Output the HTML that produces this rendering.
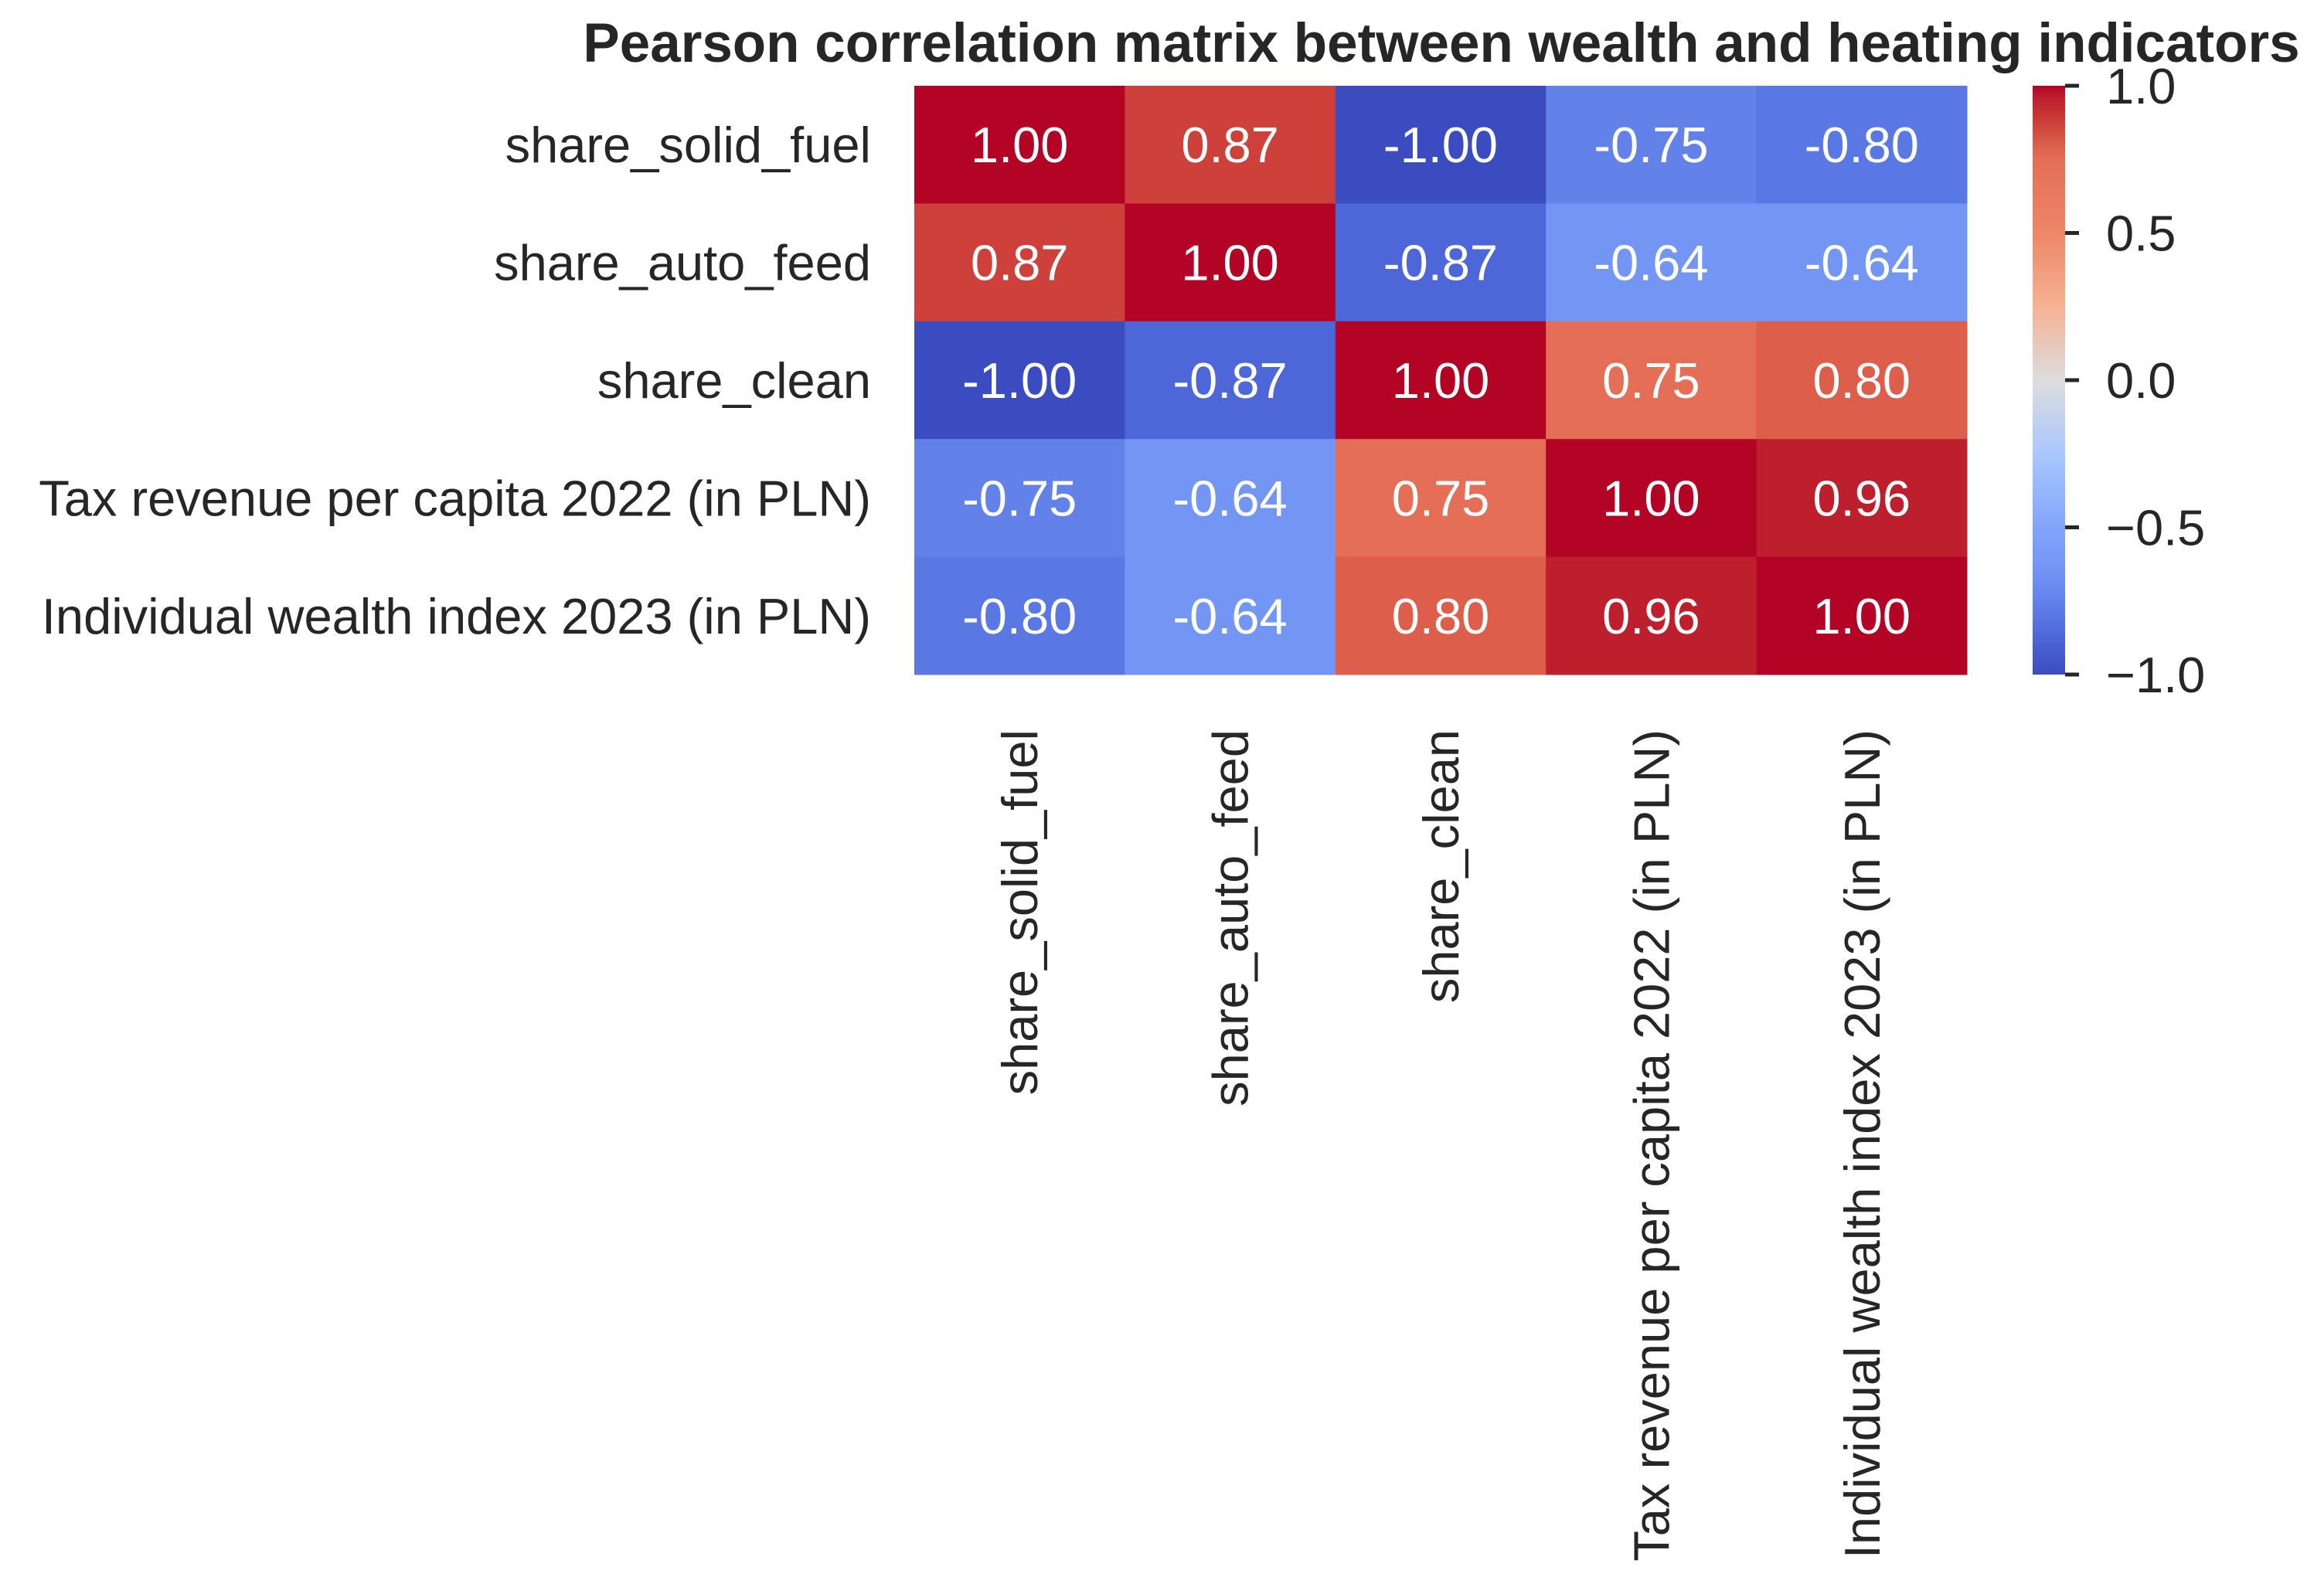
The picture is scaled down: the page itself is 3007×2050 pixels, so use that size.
<!DOCTYPE html>
<html><head><meta charset="utf-8"><style>
html,body{margin:0;padding:0;background:#fff;}
svg{display:block;font-family:"Liberation Sans",Arial,sans-serif;}
</style></head><body>
<svg id="chart" width="3007" height="2050" viewBox="0 0 3007 2050" xmlns="http://www.w3.org/2000/svg">
<text x="1865" y="80" text-anchor="middle" font-size="71" font-weight="bold" fill="#262626">Pearson correlation matrix between wealth and heating indicators</text>
<defs>
<linearGradient id="cw" x1="0" y1="1" x2="0" y2="0"></linearGradient>
</defs>
<g id="cells"></g>
<g id="ylabels"></g>
<g id="xlabels"></g>
<rect x="2630" y="111" width="42" height="762" fill="url(#cw)"/>
<g id="cbticks"></g>
</svg>
<script>
const labels = ["share_solid_fuel","share_auto_feed","share_clean","Tax revenue per capita 2022 (in PLN)","Individual wealth index 2023 (in PLN)"];
const row0 = [1.00, 0.87, -1.00, -0.75, -0.80];
const row1 = [0.87, 1.00, -0.87, -0.64, -0.64];
const row2 = [-1.00, -0.87, 1.00, 0.75, 0.80];
const row3 = [-0.75, -0.64, 0.75, 1.00, 0.96];
const row4 = [-0.80, -0.64, 0.80, 0.96, 1.00];
const matrix = [row0, row1, row2, row3, row4];
const cbTickValues = [1.0, 0.5, 0.0, -0.5, -1.0];
const cbTickLabels = ["1.0", "0.5", "0.0", "\u22120.5", "\u22121.0"];

const NS = "http://www.w3.org/2000/svg";
const X0 = 1183, X1 = 2545, Y0 = 111, Y1 = 873;
const n = labels.length;
const cw = (X1 - X0) / n, ch = (Y1 - Y0) / n;
const xPos = i => X0 + i * cw;
const yPos = j => Y0 + j * ch;
const cbY = v => Y1 - (v + 1) / 2 * (Y1 - Y0);

const stopPos = [0, 0.065, 0.1, 0.125, 0.18, 0.25, 0.375, 0.5, 0.625, 0.75, 0.875, 0.9, 0.935, 0.98, 1];
const stopCol = [[59,76,192],[78,103,216],[90,120,228],[98,130,234],[115,150,245],[130,165,251],[170,199,253],[221,221,221],[245,178,148],[238,134,104],[228,110,86],[220,94,75],[205,65,58],[189,31,45],[180,4,38]];
function color(v){
  const t = Math.max(0, Math.min(1, (v + 1) / 2));
  let i = 0;
  while (i < stopPos.length - 2 && t > stopPos[i+1]) i++;
  const f = (t - stopPos[i]) / (stopPos[i+1] - stopPos[i]);
  const c = stopCol[i].map((a, k) => Math.round(a + (stopCol[i+1][k] - a) * f));
  return `rgb(${c[0]},${c[1]},${c[2]})`;
}
function mk(tag, attrs, parent){
  const el = document.createElementNS(NS, tag);
  for (const k in attrs) el.setAttribute(k, attrs[k]);
  parent.appendChild(el);
  return el;
}
const grad = document.getElementById("cw");
stopPos.forEach((p, i) => {
  mk("stop", {offset: p, "stop-color": `rgb(${stopCol[i].join(",")})`}, grad);
});
const gC = document.getElementById("cells");
matrix.forEach((row, r) => row.forEach((v, c) => {
  const rect = mk("rect", {x: xPos(c), y: yPos(r), width: cw + 0.5, height: ch + 0.5, fill: color(v)}, gC);
  
  
  const t = mk("text", {x: xPos(c) + cw/2, y: yPos(r) + ch/2 + 23, "text-anchor": "middle", "font-size": 65, fill: "#ffffff"}, gC);
  
  
  t.textContent = v.toFixed(2);
}));
const gY = document.getElementById("ylabels");
labels.forEach((l, j) => {
  const t = mk("text", {x: 1127, y: yPos(j) + ch/2 + 23, "text-anchor": "end", "font-size": 65, fill: "#262626"}, gY);
  
  
  t.textContent = l;
});
const gX = document.getElementById("xlabels");
labels.forEach((l, i) => {
  const cx = xPos(i) + cw/2 + 23;
  const t = mk("text", {x: cx, y: 944, "text-anchor": "end", "font-size": 65, fill: "#262626", transform: `rotate(-90 ${cx} 944)`}, gX);
  
  
  t.textContent = l;
});
const gT = document.getElementById("cbticks");
cbTickValues.forEach((v, i) => {
  const y = cbY(v);
  const ln = mk("line", {x1: 2672, x2: 2690, y1: y, y2: y, stroke: "#262626", "stroke-width": 5}, gT);
  
  
  const t = mk("text", {x: 2725, y: y + 23, "font-size": 65, fill: "#262626"}, gT);
  
  
  t.textContent = cbTickLabels[i];
});
</script>
</body></html>
